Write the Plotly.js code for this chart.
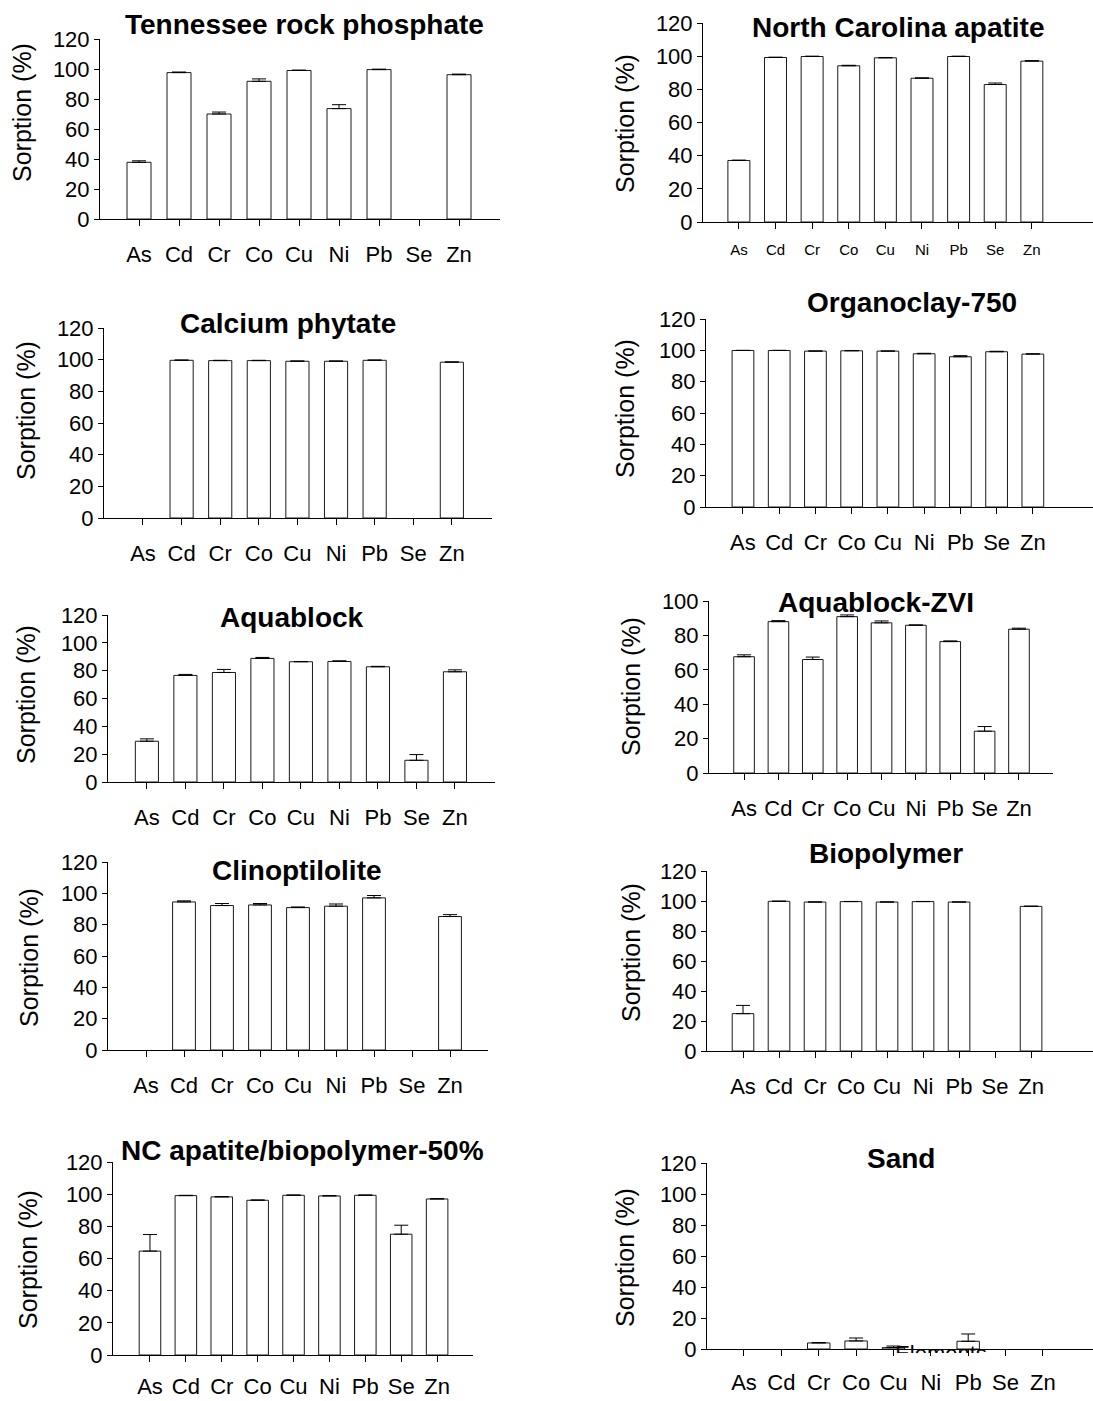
<!DOCTYPE html>
<html>
<head>
<meta charset="utf-8">
<script src="https://cdn.plot.ly/plotly-3.0.1.min.js"></script>
<style>
  html, body { margin: 0; padding: 0; background: #ffffff; }
  #chart { width: 1093px; height: 1401px; }
</style>
</head>
<body>
<div id="chart"></div>
<script>
// ---------- DATA ----------
const elements = ['As', 'Cd', 'Cr', 'Co', 'Cu', 'Ni', 'Pb', 'Se', 'Zn'];

const panelTitles = [
  'Tennessee rock phosphate', 'North Carolina apatite',
  'Calcium phytate', 'Organoclay-750',
  'Aquablock', 'Aquablock-ZVI',
  'Clinoptilolite', 'Biopolymer',
  'NC apatite/biopolymer-50%', 'Sand'
];
const yAxisLabel = 'Sorption (%)';
const hiddenXLabel = 'Elements';

const tennesseeRockPhosphate = [37.8, 97.6, 70.0, 91.8, 99.0, 73.6, 99.6, null, 96.2];
const tennesseeRockPhosphateErr = [1.0, 0.4, 1.3, 1.6, 0.3, 2.6, 0.3, null, 0.4];

const northCarolinaApatite = [37.1, 99.2, 99.8, 94.2, 99.0, 86.7, 99.8, 82.9, 97.0];
const northCarolinaApatiteErr = [0.2, 0.2, 0.2, 0.3, 0.2, 0.2, 0.2, 0.9, 0.3];

const calciumPhytate = [null, 99.6, 99.4, 99.4, 99.0, 99.0, 99.6, null, 98.4];
const calciumPhytateErr = [null, 0.2, 0.2, 0.2, 0.2, 0.2, 0.2, null, 0.2];

const organoclay750 = [99.9, 99.9, 99.5, 99.7, 99.5, 97.8, 95.9, 99.1, 97.6];
const organoclay750Err = [0.1, 0.1, 0.1, 0.2, 0.1, 0.3, 0.7, 0.3, 0.2];

const aquablock = [29.3, 76.6, 78.7, 88.8, 86.4, 86.6, 82.8, 15.6, 79.2];
const aquablockErr = [1.7, 0.7, 2.2, 0.7, 0.2, 0.5, 0.3, 4.1, 1.4];

const aquablockZVI = [67.6, 88.0, 66.0, 90.9, 87.3, 85.9, 76.4, 24.3, 83.6];
const aquablockZVIErr = [1.1, 0.6, 1.4, 1.0, 1.1, 0.2, 0.4, 2.7, 0.6];

const clinoptilolite = [null, 94.5, 92.2, 92.6, 90.9, 91.8, 97.1, null, 85.2];
const clinoptiloliteErr = [null, 0.7, 1.3, 0.9, 0.4, 1.4, 1.5, null, 1.2];

const biopolymer = [24.9, 99.8, 99.3, 99.6, 99.3, 99.6, 99.3, null, 96.4];
const biopolymerErr = [5.5, 0.1, 0.1, 0.1, 0.1, 0.1, 0.1, null, 0.2];

const ncApatiteBiopolymer50 = [64.6, 99.1, 98.3, 96.2, 99.3, 98.9, 99.3, 75.1, 97.0];
const ncApatiteBiopolymer50Err = [10.3, 0.2, 0.2, 0.2, 0.2, 0.2, 0.2, 5.6, 0.2];

const sand = [null, null, 3.9, 5.2, 0.9, null, 5.0, null, null];
const sandErr = [null, null, 0.3, 1.9, 1.0, null, 4.7, null, null];

const yTickValues = [0, 20, 40, 60, 80, 100, 120];

// ---------- LAYOUT GEOMETRY (pixels in a 1093 x 1401 page) ----------
const W = 1093, H = 1401;
const seriesList = [
  [tennesseeRockPhosphate, tennesseeRockPhosphateErr],
  [northCarolinaApatite, northCarolinaApatiteErr],
  [calciumPhytate, calciumPhytateErr],
  [organoclay750, organoclay750Err],
  [aquablock, aquablockErr],
  [aquablockZVI, aquablockZVIErr],
  [clinoptilolite, clinoptiloliteErr],
  [biopolymer, biopolymerErr],
  [ncApatiteBiopolymer50, ncApatiteBiopolymer50Err],
  [sand, sandErr]
];
// x0,x1: x-axis extent; xr: category range; yb,yt: y of 0 and top; ymax; tick font; standoff; title centre; y-label centre
const boxes = [
  {x0:100, x1:500,  xr:[-0.975, 9.025], yb:219,  yt:39,   ymax:120, tf:22, so:10, tx:304, ty:25,   lx:22,  ly:113},
  {x0:703, x1:1093, xr:[-0.98, 9.67],   yb:222,  yt:23,   ymax:120, tf:15, so:8,  tx:898, ty:27,   lx:625, ly:124},
  {x0:104, x1:492,  xr:[-1.01, 9.04],   yb:518,  yt:328,  ymax:120, tf:22, so:10, tx:288, ty:324,  lx:26,  ly:411},
  {x0:706, x1:1093, xr:[-1.02, 9.66],   yb:507,  yt:319,  ymax:120, tf:22, so:10, tx:912, ty:303,  lx:625, ly:409},
  {x0:108, x1:495,  xr:[-1.01, 9.04],   yb:782,  yt:615,  ymax:120, tf:22, so:10, tx:292, ty:617,  lx:26,  ly:695},
  {x0:709, x1:1053, xr:[-1.02, 8.99],   yb:773,  yt:601,  ymax:100, tf:22, so:10, tx:876, ty:602,  lx:631, ly:687},
  {x0:108, x1:488,  xr:[-1.0, 9.0],     yb:1050, yt:862,  ymax:120, tf:22, so:10, tx:297, ty:870,  lx:29,  ly:958},
  {x0:707, x1:1093, xr:[-1.0, 9.72],    yb:1051, yt:871,  ymax:120, tf:22, so:10, tx:886, ty:853,  lx:631, ly:953},
  {x0:113, x1:473,  xr:[-1.03, 9.0],    yb:1355, yt:1162, ymax:120, tf:22, so:6,  tx:302, ty:1150, lx:28,  ly:1260},
  {x0:707, x1:1093, xr:[-0.99, 9.34],   yb:1349, yt:1163, ymax:120, tf:22, so:8,  tx:901, ty:1158, lx:625, ly:1258}
];

const FONT = 'Liberation Sans, Arial, sans-serif';
const traces = [];
const layout = {
  width: W, height: H,
  margin: {l:0, r:0, t:0, b:0, pad:0},
  paper_bgcolor: '#ffffff', plot_bgcolor: 'rgba(0,0,0,0)',
  showlegend: false,
  font: {family: FONT, color: '#000000'},
  bargap: 0.4,
  annotations: []
};

boxes.forEach((b, i) => {
  const n = i + 1;
  const sfx = n === 1 ? '' : String(n);
  const [vals, errs] = seriesList[i];
  traces.push({
    type: 'bar',
    x: elements,
    y: vals,
    width: 0.6,
    xaxis: 'x' + sfx, yaxis: 'y' + sfx,
    marker: {color: '#ffffff', line: {color: '#1a1a1a', width: 1}},
    error_y: {
      type: 'data', symmetric: false,
      array: errs, arrayminus: errs.map(e => (e === null ? null : 0)),
      color: '#000000', thickness: 1, width: 7
    },
    cliponaxis: false,
    hoverinfo: 'skip'
  });
  layout['xaxis' + sfx] = {
    domain: [b.x0 / W, b.x1 / W],
    anchor: 'y' + sfx,
    type: 'category',
    categoryorder: 'array', categoryarray: elements,
    range: b.xr,
    showline: true, linecolor: '#000000', linewidth: 1,
    ticks: 'outside', ticklen: 6, tickwidth: 1, tickcolor: '#000000',
    tickfont: {family: FONT, size: b.tf, color: '#000000'},
    ticklabelstandoff: b.so,
    showgrid: false, zeroline: false, fixedrange: true
  };
  layout['yaxis' + sfx] = {
    domain: [(H - b.yb) / H, (H - b.yt) / H],
    anchor: 'x' + sfx,
    range: [0, b.ymax],
    tickmode: 'array',
    tickvals: yTickValues.filter(v => v <= b.ymax),
    showline: true, linecolor: '#000000', linewidth: 1,
    ticks: 'outside', ticklen: 5, tickwidth: 1, tickcolor: '#000000',
    tickfont: {family: FONT, size: 22, color: '#000000'},
    showgrid: false, zeroline: false, fixedrange: true
  };
  layout.annotations.push({
    xref: 'paper', yref: 'paper',
    x: b.tx / W, y: 1 - b.ty / H,
    xanchor: 'center', yanchor: 'middle',
    text: '<b>' + panelTitles[i] + '</b>',
    showarrow: false,
    font: {family: FONT, size: 28, color: '#000000'}
  });
  layout.annotations.push({
    xref: 'paper', yref: 'paper',
    x: b.lx / W, y: 1 - b.ly / H,
    xanchor: 'center', yanchor: 'middle',
    textangle: -90,
    text: yAxisLabel,
    showarrow: false,
    font: {family: FONT, size: 25, color: '#000000'}
  });
});

// Half-hidden "Elements" label in the Sand panel: clipped by an invisible helper subplot
layout.xaxis11 = {domain: [0, 1], range: [0, W], visible: false, fixedrange: true, anchor: 'y11'};
layout.yaxis11 = {domain: [(H - 1353) / H, (H - 1320) / H], range: [1353, 1320], visible: false, fixedrange: true, anchor: 'x11'};
traces.push({
  type: 'scatter', mode: 'text',
  x: [941], y: [1355],
  text: [hiddenXLabel],
  textposition: 'middle center',
  textfont: {family: FONT, size: 22, color: '#000000'},
  xaxis: 'x11', yaxis: 'y11',
  cliponaxis: true, hoverinfo: 'skip'
});

Plotly.newPlot('chart', traces, layout, {staticPlot: true, displayModeBar: false});
</script>
</body>
</html>
